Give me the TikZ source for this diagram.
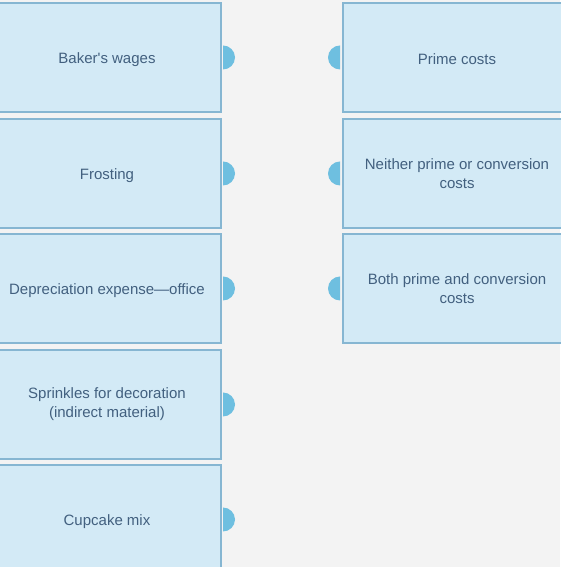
\documentclass[tikz,border=0pt]{standalone}
\usepackage{fontspec}
\setmainfont{Liberation Sans}
\usetikzlibrary{positioning,calc}

\definecolor{bggray}{HTML}{F3F3F3}
\definecolor{cardfill}{HTML}{D3EAF6}
\definecolor{carddraw}{HTML}{86B6D2}
\definecolor{knobblue}{HTML}{6EBFE0}
\definecolor{cardtext}{HTML}{42607F}

\begin{document}
\begin{tikzpicture}[
    x=1pt, y=1pt,
    card/.style={rectangle, draw=carddraw, line width=1.3pt, fill=cardfill, outer sep=0pt,
        minimum height=109pt, minimum width=228pt, align=center, text=cardtext,
        font=\fontsize{15}{19}\selectfont, execute at begin node={\rule{0pt}{15pt}}},
    knob/.style={fill=knobblue}
]
    % background
    \fill[bggray] (0,0) rectangle (560,567);
    \useasboundingbox (0,0) rectangle (560,567);

    % items
    \node[card] (l1) at (107, 509.5) {Baker\textquotesingle s wages};
    \node[card] (l2) at (107, 393.5) {Frosting};
    \node[card] (l3) at (107, 278.5) {Depreciation expense---office};
    \node[card] (l4) at (107, 162.5) {Sprinkles for decoration\\(indirect material)};
    \node[card] (l5) at (107, 47.5) {Cupcake mix};

    % categories
    \node[card] (r1) at (457, 509.5) {Prime costs};
    \node[card] (r2) at (457, 393.5) {Neither prime or conversion\\costs};
    \node[card] (r3) at (457, 278.5) {Both prime and conversion\\costs};

    % knobs
    \foreach \n in {l1,l2,l3,l4,l5}
        \fill[knob] ([xshift=2pt]\n.east) ++(0,12) arc[start angle=90, end angle=-90, radius=12] -- cycle;
    \foreach \n in {r1,r2,r3}
        \fill[knob] ([xshift=-3pt]\n.west) ++(0,12) arc[start angle=90, end angle=270, radius=12] -- cycle;
\end{tikzpicture}
\end{document}
